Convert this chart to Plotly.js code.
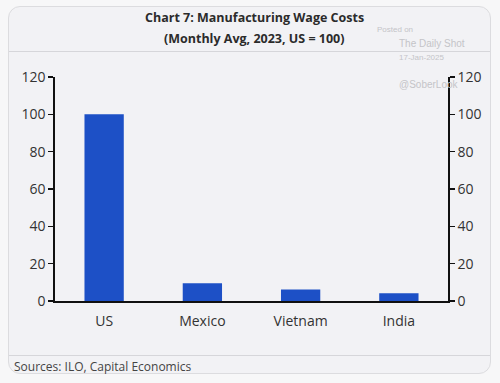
<!DOCTYPE html>
<html>
<head>
<meta charset="utf-8">
<script src="https://cdn.plot.ly/plotly-3.0.1.min.js"></script>
<style>
  html, body { margin: 0; padding: 0; background: #f7f7f8; }
  #wrap { position: relative; width: 500px; height: 383px; overflow: hidden; }
  #card { position: absolute; left: 8px; top: 6px; width: 483px; height: 368px;
          border: 1px solid #dcdcdf; border-radius: 12px; background: #f2f2f5; box-sizing: border-box; }
  .sep { position: absolute; left: 9px; width: 481px; height: 1px; background: #d6d6da; }
  #chart { position: absolute; left: 0; top: 0; width: 500px; height: 383px; }
</style>
</head>
<body>
<div id="wrap">
  <div id="card"></div>
  <div class="sep" style="top:51px"></div>
  <div class="sep" style="top:355px"></div>
  <div id="chart"></div>
</div>
<script>
const categories = ["US", "Mexico", "Vietnam", "India"];
const wageIndex = [100, 9.5, 6.2, 4.1];
const yTicks = [0, 20, 40, 60, 80, 100, 120];

const fontFam = '"Open Sans", "Noto Sans", sans-serif';
const axisCommon = {
  range: [0, 120],
  tickvals: yTicks,
  ticktext: yTicks.map(String),
  showline: true, linecolor: '#111', linewidth: 1.6,
  ticks: 'outside', ticklen: 5, tickwidth: 1.4, tickcolor: '#111',
  showgrid: false, zeroline: false,
  tickfont: { family: fontFam, size: 14, color: '#333' },
  fixedrange: true
};

const data = [{
  type: 'bar',
  x: categories,
  y: wageIndex,
  marker: { color: '#1d50c6' },
  width: 0.4,
  hoverinfo: 'skip'
}, {
  type: 'bar', x: categories, y: wageIndex, yaxis: 'y2',
  marker: { color: 'rgba(0,0,0,0)' }, width: 0.4, hoverinfo: 'skip', showlegend: false
}];

const layout = {
  width: 500, height: 383,
  margin: { l: 55, r: 52, t: 77, b: 82 },
  paper_bgcolor: 'rgba(0,0,0,0)',
  plot_bgcolor: 'rgba(0,0,0,0)',
  showlegend: false,
  barmode: 'overlay',
  xaxis: {
    type: 'category',
    showline: true, linecolor: '#111', linewidth: 1.6,
    ticks: '', showgrid: false, zeroline: false,
    ticklabelstandoff: 7,
    tickfont: { family: fontFam, size: 14, color: '#333' },
    fixedrange: true
  },
  yaxis: Object.assign({}, axisCommon, { side: 'left' }),
  yaxis2: Object.assign({}, axisCommon, { side: 'right', overlaying: 'y' }),
  annotations: [
    { text: '<b>Chart 7: Manufacturing Wage Costs</b>', showarrow: false, xanchor: 'center', yanchor: 'middle',
      font: { family: fontFam, size: 12.5, color: '#2b2b2b' } },
    { text: '<b>(Monthly Avg, 2023, US = 100)</b>', showarrow: false, xanchor: 'center', yanchor: 'middle',
      font: { family: fontFam, size: 12.5, color: '#2b2b2b' } },
    { text: 'Posted on', showarrow: false, xanchor: 'left', yanchor: 'middle',
      font: { family: 'Liberation Sans, Arial, sans-serif', size: 8, color: '#c4c4c8' } },
    { text: 'The Daily Shot', showarrow: false, xanchor: 'left', yanchor: 'middle',
      font: { family: 'Liberation Sans, Arial, sans-serif', size: 10, color: '#c4c4c8' } },
    { text: '17-Jan-2025', showarrow: false, xanchor: 'left', yanchor: 'middle',
      font: { family: 'Liberation Sans, Arial, sans-serif', size: 8, color: '#c4c4c8' } },
    { text: '@SoberLook', showarrow: false, xanchor: 'left', yanchor: 'middle',
      font: { family: 'Liberation Sans, Arial, sans-serif', size: 10, color: '#c4c4c8' } },
    { text: 'Sources: ILO, Capital Economics', showarrow: false, xanchor: 'left', yanchor: 'middle',
      font: { family: fontFam, size: 12, color: '#444' } }
  ]
};

// place annotations by pixel position relative to the plot area
const W = 500, H = 383, L = 55, R = 52, T = 77, B = 82;
const pw = W - L - R, ph = H - T - B;
function px(x) { return (x - L) / pw; }
function py(y) { return (H - B - y) / ph; }
const pos = [[254, 18], [254, 39], [375, 29], [397, 43], [397, 58], [397, 84], [12, 366]];
layout.annotations.forEach((a, i) => {
  a.xref = 'paper'; a.yref = 'paper';
  a.x = px(pos[i][0]); a.y = py(pos[i][1]);
});

Plotly.newPlot('chart', data, layout, { displayModeBar: false, staticPlot: true });
</script>
</body>
</html>
